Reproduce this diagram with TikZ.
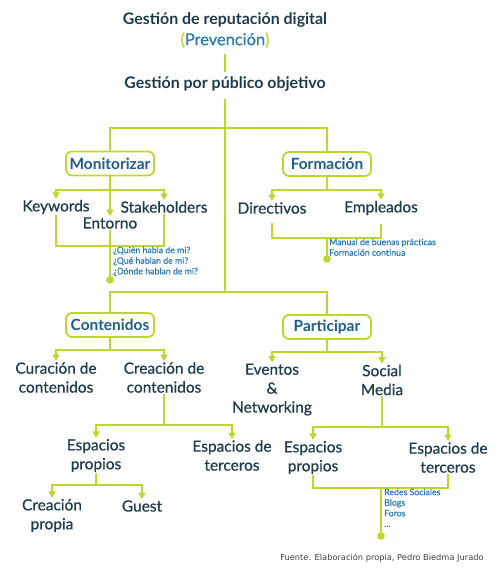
\documentclass[tikz,border=0pt]{standalone}
\usepackage{fontspec}
\setmainfont{Lato}
\newfontfamily\footfont{DejaVu Sans}
\newfontfamily\medfont[FakeBold=0.6]{Lato}
\usetikzlibrary{arrows.meta}
\definecolor{lg}{RGB}{192,214,46}
\definecolor{dk}{RGB}{28,59,77}
\definecolor{bl}{RGB}{30,92,138}
\definecolor{sb}{RGB}{42,122,184}
\tikzset{
  ln/.style={draw=lg, line width=1.8bp},
  arr/.style={ln, -{Triangle[width=7bp,length=6.5bp]}},
  box/.style={draw=lg, line width=1.8bp, rounded corners=6bp, fill=white,
    minimum width=88bp, minimum height=24bp, inner sep=0pt,
    font=\bfseries\fontsize{15.5}{18}\selectfont, text=bl},
  ttl/.style={font=\bfseries\fontsize{16}{18}\selectfont, text=dk, inner sep=1bp},
  lbl/.style={font=\medfont\fontsize{15.5}{19}\selectfont, text=dk, align=center, inner sep=1bp},
  note/.style={font=\medfont\fontsize{8.8}{10.6}\selectfont, text=sb, align=left, anchor=north west, inner sep=0pt},
  dotc/.style={circle, inner sep=0pt, minimum size=7.5bp},
  dotfill/.style={fill=lg},
}
\begin{document}
\begin{tikzpicture}[x=1bp,y=-1bp]
\useasboundingbox (0,0) rectangle (500,583);
% titles
\node[ttl] (title) at (225,20) {Gestión de reputación digital};
\node[font=\medfont\fontsize{16.5}{18}\selectfont, text=sb, inner sep=1bp] (prev) at (225,40) {{\color{lg}(}Prevención{\color{lg})}};
\node[ttl] (gpo) at (225,84) {Gestión por público objetivo};
\draw[ln, shorten <=5bp, shorten >=3bp] (prev.south) -- (gpo.north);
% junctions
\coordinate (j1) at (225,128);
\coordinate (j2) at (225,292);
% boxes
\node[box] (mon) at (110,163.5) {Monitorizar};
\node[box] (for) at (327,164) {Formación};
\node[box] (con) at (110,325) {Contenidos};
\node[box] (par) at (327,327) {Participar};
\draw[ln, shorten <=6bp] (gpo.south) -- (j2);
\draw[ln] (mon.north) |- (j1) -| (for.north);
\draw[ln] (con.north) |- (j2) -| (par.north);
% Monitorizar branch
\node[lbl] (kw) at (56,207) {Keywords};
\node[lbl] (sh) at (164,207) {Stakeholders};
\node[lbl] (ent) at (110,223) {Entorno};
\coordinate (m1) at (110,190);
\coordinate (m2) at (110,246);
\draw[arr] (mon.south) -- (ent.north);
\draw[arr] (m1) -| (kw.north);
\draw[arr] (m1) -| (sh.north);
\draw[ln] (kw.south) |- (m2) -| (sh.south);
\node[dotc] (d1) at (110,280) {};
\draw[ln] (ent.south) -- (d1.center);
\node[note] (n1) at (113,246.5) {¿Quién habla de mi?\\¿Qué hablan de mi?\\¿Dónde hablan de mi?};
% Formación branch
\node[lbl] (dir) at (272,208) {Directivos};
\node[lbl] (emp) at (381,208) {Empleados};
\coordinate (f1) at (327,190);
\coordinate (f2) at (327,238);
\draw[ln] (for.south) -- (f1);
\draw[arr] (f1) -| (dir.north);
\draw[arr] (f1) -| (emp.north);
\draw[ln, shorten <=8bp, shorten >=8bp] (dir.south) |- (f2) -| (emp.south);
\node[dotc] (d2) at (327,259) {};
\draw[ln] (f2) -- (d2.center);
\node[note] (n2) at (329,238.5) {Manual de buenas prácticas\\Formación continua};
% Contenidos branch
\node[lbl] (cur) at (56,377.5) {Curación de\\contenidos};
\node[lbl] (cre) at (164,377.5) {Creación de\\contenidos};
\coordinate (c1) at (110,350);
\coordinate (c2) at (164,425);
\draw[ln] (con.south) -- (c1);
\draw[arr] (c1) -| (cur.north);
\draw[arr] (c1) -| (cre.north);
\node[lbl] (ep1) at (96,455.5) {Espacios\\propios};
\node[lbl] (et1) at (232,455.5) {Espacios de\\terceros};
\draw[ln] (cre.south) -- (c2);
\draw[arr] (c2) -| (ep1.north);
\draw[arr] (c2) -| (et1.north);
\node[lbl] (cp) at (52,515.5) {Creación\\propia};
\node[lbl] (gu) at (142,506) {Guest};
\coordinate (e1) at (96,485);
\draw[ln] (ep1.south) -- (e1);
\draw[arr] (e1) -| (cp.north);
\draw[arr] (e1) -| (gu.north);
% Participar branch
\node[lbl] (ev) at (272,389.5) {Eventos\\\&\\Networking};
\node[lbl] (sm) at (382,380) {Social\\Media};
\coordinate (p1) at (327,352);
\coordinate (p2) at (382,427);
\draw[ln] (par.south) -- (p1);
\draw[arr] (p1) -| (ev.north);
\draw[arr] (p1) -| (sm.north);
\node[lbl] (ep2) at (313,457.5) {Espacios\\propios};
\node[lbl] (et2) at (448,457.5) {Espacios de\\terceros};
\draw[ln] (sm.south) -- (p2);
\draw[arr] (p2) -| (ep2.north);
\draw[arr] (p2) -| (et2.north);
\coordinate (p3) at (381,488);
\draw[ln] (ep2.south) |- (p3) -| (et2.south);
\node[dotc] (d3) at (381,536) {};
\draw[ln] (p3) -- (d3.center);
\node[note] (n3) at (384,488.5) {Redes Sociales\\Blogs\\Foros\\...};
% dots
\fill[dotfill] (d1.center) circle[radius=3.8bp];
\fill[dotfill] (d2.center) circle[radius=3.8bp];
\fill[dotfill] (d3.center) circle[radius=3.8bp];
% footer
\node[font=\footfont\fontsize{8.3}{9}\selectfont, text=black!75, inner sep=0pt] (foot) at (382,558) {Fuente. Elaboración propia, Pedro Biedma Jurado};
\end{tikzpicture}
\end{document}
